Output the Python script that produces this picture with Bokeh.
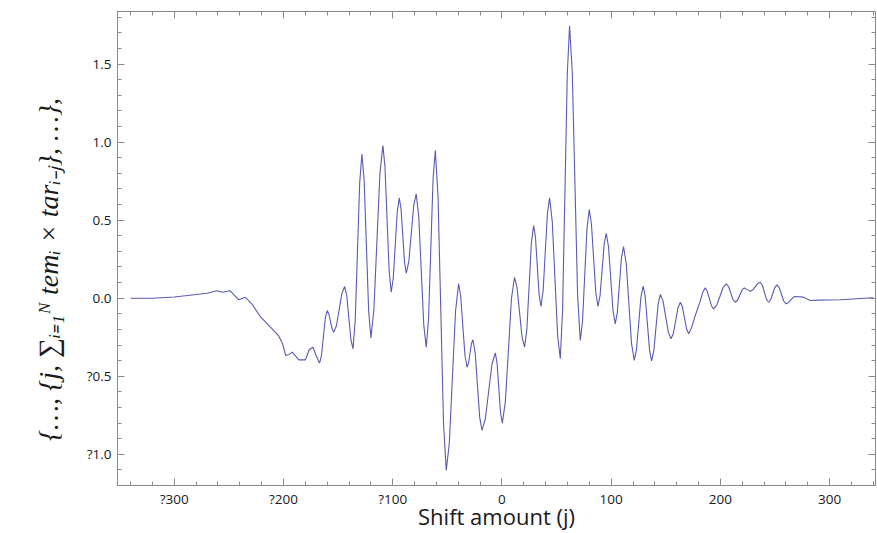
from bokeh.plotting import figure
from bokeh.models import LinearAxis, FixedTicker, Range1d, CustomLabelingPolicy
from bokeh.embed import file_html
from bokeh.resources import INLINE

# ---- data (shift j, correlation sum) ----
shift = [-340, -320, -300, -288, -270, -261, -256, -249, -245, -241, -235, -229,
         -221, -212, -204.5, -201, -198, -195, -192, -189, -186, -180, -176.5,
         -173, -170, -167,
         -165.25, -161.75, -160, -158.5, -155.5, -154, -151.5, -146.5, -144,
         -142.1, -138.3, -136.4, -134.35, -130.25, -128.2, -126.15, -122.05,
         -120, -117.25, -111.75, -109, -107.1, -103.3, -101.4, -99.55, -95.85,
         -94, -92.4, -89.2, -87.6, -85.3, -80.8, -78.5, -76.2, -71.6, -69.3,
         -67.2, -63.1, -61, -58.5, -53.5, -51, -48.2, -42.5, -39.7, -37.8,
         -33.9, -32, -30.65, -27.95, -26.6, -24.5, -20.4, -18.3, -15.25, -9.15,
         -6.1, -4.5, -1.3, 0.3, 3.1, 8.7, 11.5, 13.8, 18.4, 20.7, 22.8, 26.9,
         29, 30.7, 34.0, 35.7, 37.7, 41.6, 43.6, 46.05, 50.95, 53.4, 55.5,
         59.8, 61.9, 64.35, 69.25, 71.7, 73.75, 77.85, 79.9, 81.9, 85.9, 87.9,
         89.8, 93.6, 95.5, 97.55, 101.65, 103.7, 105.6, 109.4, 111.3, 113.75,
         118.65, 121.1, 123.15, 127.25, 129.3, 131.2, 135.1, 137, 139, 143, 145,
         147.45, 152.35, 154.8, 156.9, 161.2, 163.3, 165.2, 169.1, 171, 173.5,
         177, 181, 184, 186, 187.9, 191.8, 193.7, 196.6, 202.5, 205.4, 207.45,
         211.55, 213.6, 215.7, 219.8, 221.9, 224.6, 227.3, 229.6, 234.2, 236.5,
         238.4, 242.2, 244.1, 246.0, 249.9, 251.8, 253.85, 257.95, 260, 262.1,
         266.4, 268.5, 275.6, 282.3, 290, 310, 340]
corr = [0.0, 0.0, 0.008, 0.017, 0.032, 0.048, 0.038, 0.048, 0.02, -0.01, 0.006,
        -0.036, -0.12, -0.186, -0.24, -0.29, -0.367, -0.36, -0.346, -0.37,
        -0.395, -0.395, -0.33, -0.314, -0.37, -0.416,
        -0.367, -0.128, -0.079, -0.099, -0.198, -0.218, -0.175, 0.032, 0.075,
        0.017, -0.266, -0.324, -0.142, 0.742, 0.924, 0.752, -0.082, -0.254,
        -0.074, 0.798, 0.978, 0.841, 0.175, 0.038, 0.126, 0.555, 0.643, 0.572,
        0.231, 0.16, 0.234, 0.594, 0.668, 0.525, -0.171, -0.314, -0.130, 0.762,
        0.946, 0.647, -0.804, -1.103, -0.929, -0.082, 0.092, 0.014, -0.364,
        -0.442, -0.416, -0.292, -0.266, -0.351, -0.762, -0.847, -0.774, -0.423,
        -0.35, -0.416, -0.734, -0.80, -0.664, -0.002, 0.134, 0.069, -0.249,
        -0.314, -0.200, 0.351, 0.465, 0.389, 0.023, -0.053, 0.049, 0.541, 0.643,
        0.492, -0.237, -0.388, -0.076, 1.434, 1.746, 1.452, 0.023, -0.271,
        -0.149, 0.446, 0.568, 0.477, 0.038, -0.053, 0.015, 0.348, 0.416, 0.331,
        -0.079, -0.164, -0.092, 0.259, 0.331, 0.224, -0.292, -0.399, -0.329,
        0.008, 0.078, 0.008, -0.331, -0.401, -0.339, -0.038, 0.024, -0.017,
        -0.219, -0.26, -0.226, -0.060, -0.026, -0.055, -0.199, -0.228, -0.19,
        -0.111, -0.03, 0.04, 0.066, 0.046, -0.048, -0.068, -0.045, 0.069, 0.092,
        0.075, -0.009, -0.026, -0.013, 0.053, 0.066, 0.055, 0.045, 0.053, 0.094,
        0.102, 0.083, -0.007, -0.026, -0.010, 0.070, 0.086, 0.068, -0.018,
        -0.036, -0.029, 0.004, 0.011, 0.007, -0.015, -0.012, -0.01, 0.003]

x_ticks = [-300, -200, -100, 0, 100, 200, 300]
x_tick_labels = ["?300", "?200", "?100", "0", "100", "200", "300"]
y_ticks = [-1.0, -0.5, 0.0, 0.5, 1.0, 1.5]
y_tick_labels = ["?1.0", "?0.5", "0.0", "0.5", "1.0", "1.5"]
x_minor = list(range(-340, 341, 20))
y_minor = [round(-1.2 + 0.1 * k, 1) for k in range(31)]

x_title = "Shift amount (j)"
y_title = "{…, {j, ∑ᵢ₌₁ᴺ temᵢ × tarᵢ₋ⱼ}, …},"

FRAME = "#8a8a8a"
TEXT = "#1a1a1a"

p = figure(width=877, height=533, output_backend="svg", toolbar_location=None,
           x_range=Range1d(-352, 342), y_range=Range1d(-1.2, 1.837),
           x_axis_location=None, y_axis_location=None,
           min_border_left=117, min_border_right=2, min_border_top=11,
           min_border_bottom=48)
p.grid.visible = False
p.outline_line_color = FRAME
p.background_fill_color = "white"
p.border_fill_color = "white"

p.line(shift, corr, line_color="#5a5ab4", line_width=1.1)

hide_all = CustomLabelingPolicy(code="for (const i of [...indices]) indices.unset(i)")


def style(ax, labels=True):
    ax.axis_line_color = FRAME
    ax.major_tick_line_color = FRAME
    ax.minor_tick_line_color = FRAME
    ax.major_tick_in = 7
    ax.major_tick_out = 0
    ax.minor_tick_in = 4
    ax.minor_tick_out = 0
    ax.major_label_text_color = TEXT
    ax.major_label_text_font = "Open Sans"
    ax.major_label_text_font_size = "13.5px"
    if not labels:
        ax.major_label_policy = hide_all
        ax.major_label_text_font_size = "0px"
        ax.major_label_standoff = 0


xb = LinearAxis(ticker=FixedTicker(ticks=x_ticks, minor_ticks=x_minor))
xb.major_label_overrides = dict(zip(x_ticks, x_tick_labels))
style(xb)
xb.major_label_standoff = 4
xb.axis_label = x_title
xb.axis_label_text_font = "Open Sans"
xb.axis_label_text_font_style = "normal"
xb.axis_label_text_font_size = "22px"
xb.axis_label_text_color = TEXT
xb.axis_label_standoff = -10
p.add_layout(xb, "below")

yl = LinearAxis(ticker=FixedTicker(ticks=y_ticks, minor_ticks=y_minor))
yl.major_label_overrides = dict(zip(y_ticks, y_tick_labels))
style(yl)
yl.major_label_standoff = 6
yl.axis_label = y_title + "\u00a0" * 6
yl.axis_label_text_font = "Liberation Serif"
yl.axis_label_text_font_style = "italic"
yl.axis_label_text_font_size = "28px"
yl.axis_label_text_color = TEXT
yl.axis_label_standoff = 20
p.add_layout(yl, "left")

xt = LinearAxis(ticker=FixedTicker(ticks=x_ticks, minor_ticks=x_minor))
style(xt, labels=False)
p.add_layout(xt, "above")

yr = LinearAxis(ticker=FixedTicker(ticks=y_ticks, minor_ticks=y_minor))
style(yr, labels=False)
p.add_layout(yr, "right")

open("out.html", "w").write(file_html(p, INLINE))
